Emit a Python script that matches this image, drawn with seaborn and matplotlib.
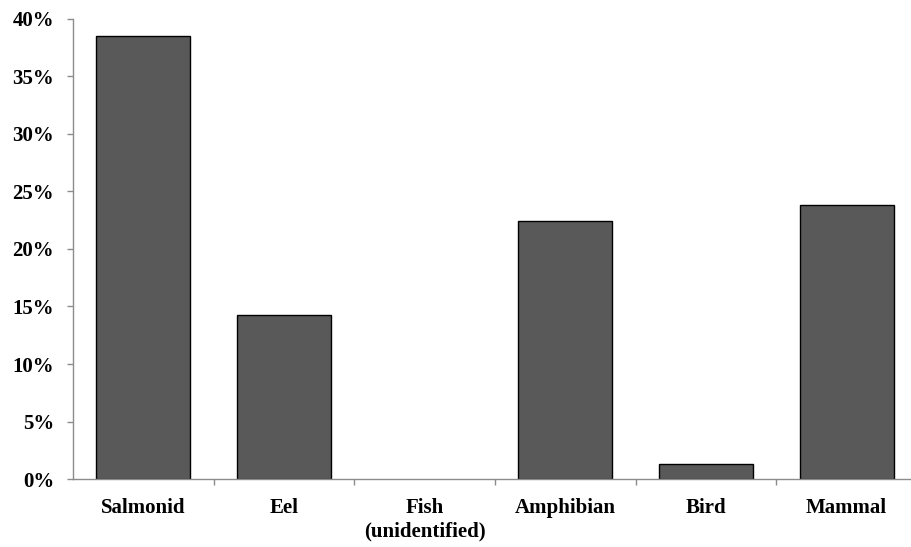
import matplotlib
matplotlib.use("Agg")
import matplotlib.pyplot as plt
import seaborn as sns
import pandas as pd
from matplotlib.ticker import FuncFormatter, MultipleLocator, FixedLocator

categories = ["Salmonid", "Eel", "Fish\n(unidentified)", "Amphibian", "Bird", "Mammal"]
values = [38.5, 14.3, 0.0, 22.4, 1.3, 23.8]

sns.set_style("white")
plt.rcParams['font.family'] = ['Liberation Serif', 'DejaVu Serif']
plt.rcParams['font.weight'] = 'bold'

df = pd.DataFrame({"cat": categories, "val": values})

fig = plt.figure(figsize=(9.11, 5.47), dpi=100)
ax = fig.add_axes([0.0801, 0.1243, 0.9265, 0.841])
sns.barplot(data=df, x="cat", y="val", ax=ax, color="#595959", width=0.667,
            edgecolor="black", linewidth=1.0, saturation=1)
for p in ax.patches:
    if p.get_height() == 0:
        p.set_linewidth(0)

ax.set_xlim(-0.5, 5.5)
ax.set_ylim(0, 40)
ax.yaxis.set_major_locator(MultipleLocator(5))
ax.yaxis.set_major_formatter(FuncFormatter(lambda v, p: f"{int(round(v))}%"))
ax.set_xlabel("")
ax.set_ylabel("")

for s in ["top", "right"]:
    ax.spines[s].set_visible(False)
for s in ["left", "bottom"]:
    ax.spines[s].set_color("#8c8c8c")
    ax.spines[s].set_linewidth(1.0)

ax.tick_params(axis="y", which="major", direction="out", length=4.5, width=1,
               color="#8c8c8c", labelsize=15, pad=9, left=True, labelcolor="black")
ax.tick_params(axis="x", which="major", length=0, labelsize=15, pad=14, labelcolor="black")
ax.xaxis.set_minor_locator(FixedLocator([0.5, 1.5, 2.5, 3.5, 4.5]))
ax.tick_params(axis="x", which="minor", direction="out", length=4.5, width=1,
               color="#8c8c8c", bottom=True)
for lbl in ax.get_xticklabels() + ax.get_yticklabels():
    lbl.set_fontweight("bold")

fig.savefig("out.png", dpi=100)
